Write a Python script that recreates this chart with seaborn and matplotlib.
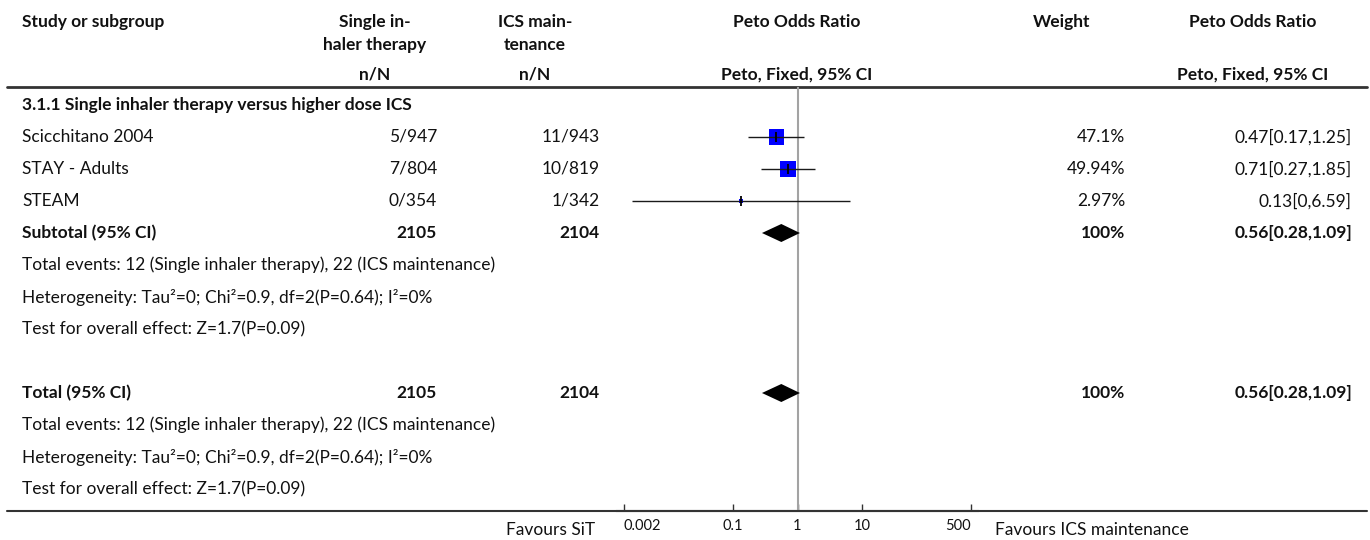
import numpy as np
import pandas as pd
import matplotlib
matplotlib.use("Agg")
import matplotlib.pyplot as plt
from matplotlib.ticker import NullLocator, FixedLocator
import seaborn as sns

# ---------------- data ----------------
subgroup_title = "3.1.1 Single inhaler therapy versus higher dose ICS"
studies = ["Scicchitano 2004", "STAY - Adults", "STEAM"]
sit_events = [5, 7, 0]
sit_totals = [947, 804, 354]
ics_events = [11, 10, 1]
ics_totals = [943, 819, 342]
weights = [47.1, 49.94, 2.97]
or_est = [0.47, 0.71, 0.13]
or_lo = [0.17, 0.27, 0.0027]
or_hi = [1.25, 1.85, 6.59]

pooled_sit_total = 2105
pooled_ics_total = 2104
pooled_weight = 100
pooled_est = 0.56
pooled_lo = 0.28
pooled_hi = 1.09

events_text = "Total events: 12 (Single inhaler therapy), 22 (ICS maintenance)"
het_text = "Heterogeneity: Tau\u00b2=0; Chi\u00b2=0.9, df=2(P=0.64); I\u00b2=0%"
test_text = "Test for overall effect: Z=1.7(P=0.09)"

axis_ticks = [0.002, 0.1, 1, 10, 500]
axis_tick_labels = ["0.002", "0.1", "1", "10", "500"]
favours_left = "Favours SiT"
favours_right = "Favours ICS maintenance"


def fmt(v):
    s = f"{v:.2f}".rstrip("0").rstrip(".")
    return s


def ci_text(e, lo, hi):
    return f"{fmt(e)}[{fmt(lo)},{fmt(hi)}]"


# ---------------- style ----------------
sns.set_theme(style="white")
plt.rcParams["font.family"] = ["Lato", "DejaVu Sans"]
FS = 12.5
TXT = "#111111"

W, H = 1370, 540
fig = plt.figure(figsize=(13.7, 5.4), dpi=100)
bg = fig.add_axes([0, 0, 1, 1])
bg.set_xlim(0, W)
bg.set_ylim(H, 0)
bg.axis("off")

ROW0, ROWH = 105, 32


def ry(i):
    return ROW0 + ROWH * i


# column layout
X_LEFT = 22
X_C1_R, X_C1_C = 437, 375
X_C2_R, X_C2_C = 600, 535
X_FOREST_C = 797
X_W_R, X_W_C = 1125, 1062
X_CI_R, X_CI_C = 1352, 1253


def t(x, y, s, ha="left", bold=False, fs=FS):
    bg.text(x, y, s, ha=ha, va="center", fontsize=fs,
            fontweight="bold" if bold else "normal", color=TXT)


# headers
t(X_LEFT, 22, "Study or subgroup", bold=True)
t(X_C1_C, 22, "Single in-", ha="center", bold=True)
t(X_C1_C, 45, "haler therapy", ha="center", bold=True)
t(X_C2_C, 22, "ICS main-", ha="center", bold=True)
t(X_C2_C, 45, "tenance", ha="center", bold=True)
t(X_FOREST_C, 22, "Peto Odds Ratio", ha="center", bold=True)
t(X_W_C, 22, "Weight", ha="center", bold=True)
t(X_CI_C, 22, "Peto Odds Ratio", ha="center", bold=True)
t(X_C1_C, 75, "n/N", ha="center", bold=True)
t(X_C2_C, 75, "n/N", ha="center", bold=True)
t(X_FOREST_C, 75, "Peto, Fixed, 95% CI", ha="center", bold=True)
t(X_CI_C, 75, "Peto, Fixed, 95% CI", ha="center", bold=True)

bg.axhline(87, xmin=7 / W, xmax=1367 / W, color="#333333", lw=2)
bg.axhline(511, xmin=7 / W, xmax=1367 / W, color="#333333", lw=1.5)

# rows
t(X_LEFT, ry(0), subgroup_title, bold=True)
study_rows = [1, 2, 3]
for i, r in enumerate(study_rows):
    t(X_LEFT, ry(r), studies[i])
    t(X_C1_R, ry(r), f"{sit_events[i]}/{sit_totals[i]}", ha="right")
    t(X_C2_R, ry(r), f"{ics_events[i]}/{ics_totals[i]}", ha="right")
    t(X_W_R, ry(r), f"{weights[i]:g}%", ha="right")
    t(X_CI_R, ry(r), ci_text(or_est[i], or_lo[i], or_hi[i]), ha="right")

for r, label in [(4, "Subtotal (95% CI)"), (9, "Total (95% CI)")]:
    t(X_LEFT, ry(r), label, bold=True)
    t(X_C1_R, ry(r), str(pooled_sit_total), ha="right", bold=True)
    t(X_C2_R, ry(r), str(pooled_ics_total), ha="right", bold=True)
    t(X_W_R, ry(r), f"{pooled_weight:g}%", ha="right", bold=True)
    t(X_CI_R, ry(r), ci_text(pooled_est, pooled_lo, pooled_hi), ha="right", bold=True)
    t(X_LEFT, ry(r + 1), events_text)
    t(X_LEFT, ry(r + 2), het_text)
    t(X_LEFT, ry(r + 3), test_text)

t(595, 530, favours_left, ha="right")
t(995, 530, favours_right, ha="left")

# ---------------- forest panel ----------------
PX_DEC = 64.4
pad_dec = 7 / PX_DEC
xlo = 10 ** (np.log10(axis_ticks[0]) - pad_dec)
xhi = 10 ** (np.log10(axis_ticks[-1]) + pad_dec)
y_top = (87 - ROW0) / ROWH
y_bot = (511 - ROW0) / ROWH

fa = fig.add_axes([617 / W, 1 - 511 / H, 361 / W, (511 - 87) / H])
fa.patch.set_alpha(0)
fa.set_xscale("log")
fa.set_xlim(xlo, xhi)
fa.set_ylim(y_bot, y_top)

fa.axvline(1, color="#a3a3a3", lw=1.5, zorder=1)

df = pd.DataFrame({"or": or_est, "row": study_rows, "w": weights})
sns.scatterplot(data=df, x="or", y="row", size="w", sizes=(0, 274),
                size_norm=(0, 100), marker="s", color="#0000ff",
                edgecolor="none", linewidth=0, legend=False, ax=fa, zorder=2)
fa.hlines(study_rows, or_lo, or_hi, color="#1a1a1a", lw=1.0, zorder=3)
fa.plot(or_est, study_rows, linestyle="none", marker="|", ms=6.5, mew=1.3,
        color="#000000", zorder=4)

dh = 9 / ROWH
for r in (4, 9):
    fa.fill([pooled_lo, pooled_est, pooled_hi, pooled_est],
            [r, r - dh, r, r + dh], color="black", lw=0, zorder=3)

fa.set_xlabel("")
fa.set_ylabel("")
fa.set_yticks([])
fa.xaxis.set_major_locator(FixedLocator(axis_ticks))
fa.xaxis.set_minor_locator(NullLocator())
fa.set_xticklabels(axis_tick_labels, fontsize=10.5, color=TXT)
labs = fa.get_xticklabels()
labs[0].set_horizontalalignment("left")
labs[-1].set_horizontalalignment("right")
fa.tick_params(axis="x", which="major", direction="in", length=5, width=1,
               color="#333333", pad=6, bottom=True)
for s in ("left", "top", "right"):
    fa.spines[s].set_visible(False)
fa.spines["bottom"].set_color("#333333")
fa.spines["bottom"].set_linewidth(1.5)

fig.savefig("out.png", dpi=100)
